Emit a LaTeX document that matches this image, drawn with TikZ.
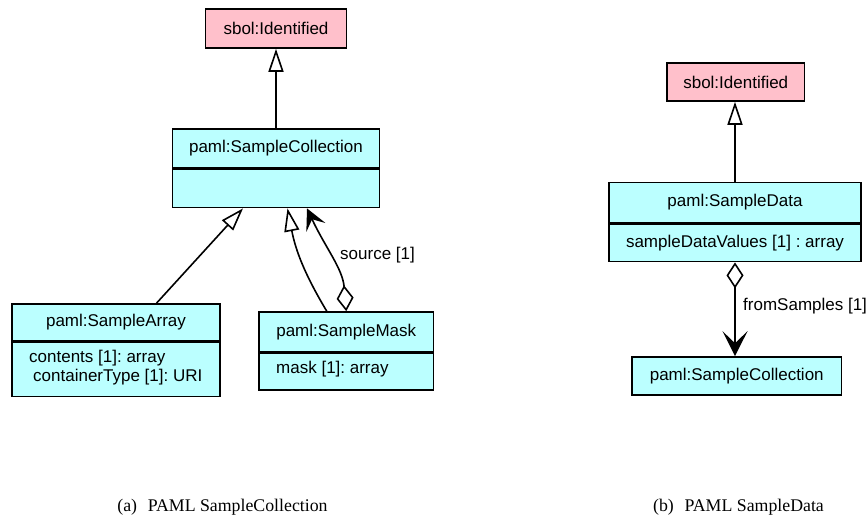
\documentclass[tikz,border=0pt]{standalone}
\usepackage{fontspec}
\setsansfont{Liberation Sans}
\setmainfont{Liberation Serif}
\usetikzlibrary{arrows.meta}
\definecolor{umlpink}{RGB}{255,192,203}
\definecolor{umlcyan}{RGB}{187,255,255}
\begin{document}
\frenchspacing
\begin{tikzpicture}[x=1pt,y=1pt,
  cls/.style={draw=black, line width=1.6pt, fill=umlcyan, inner sep=0pt, font=\sffamily\fontsize{17}{20}\selectfont},
  idcls/.style={cls, fill=umlpink},
  gen/.style={line width=1.6pt, -{Triangle[open,length=23pt,width=15pt]}},
  assoc/.style={line width=1.6pt, {Diamond[open,length=26pt,width=17pt]}-{Stealth[length=21pt,width=21pt,inset=9pt]}},
  assocbig/.style={line width=1.6pt, {Diamond[open,length=26pt,width=17pt]}-{Stealth[length=25pt,width=25pt,inset=12pt]}},
  lbl/.style={font=\sffamily\fontsize{17}{20}\selectfont, inner sep=0pt},
  captext/.style={font=\rmfamily\fontsize{17.8}{20}\selectfont, inner sep=0pt}]
\useasboundingbox (0,0) rectangle (866,-518);
% left diagram
\node[idcls, minimum width=141pt, minimum height=39pt] (idL) at (276,-28.5) {sbol:Identified};
\node[cls, minimum width=207pt, minimum height=39pt] (scT) at (276,-148.5) {paml:SampleCollection};
\node[cls, minimum width=207pt, minimum height=38pt, anchor=north] (scB) at (scT.south) {};
\node[cls, minimum width=208pt, minimum height=37pt] (saT) at (116,-322.5) {paml:SampleArray};
\node[cls, minimum width=208pt, minimum height=54pt, anchor=north] (saB) at (saT.south) {};
\node[lbl, anchor=west] (saA1) at (29,-358) {contents [1]: array};
\node[lbl, anchor=west] (saA2) at (33,-377) {containerType [1]: URI};
\node[cls, minimum width=174.5pt, minimum height=40pt] (smT) at (346.25,-332) {paml:SampleMask};
\node[cls, minimum width=174.5pt, minimum height=36.5pt, anchor=north] (smB) at (smT.south) {};
\node[lbl, anchor=west] (smA1) at (276,-369.5) {mask [1]: array};
\draw[gen] (scT.north) -- (idL.south);
\draw[gen] ([xshift=40.5pt]saT.north) -- ([xshift=-33pt]scB.south);
\draw[gen] ([xshift=-19.5pt]smT.north) to[bend left=10] ([xshift=11.5pt]scB.south);
\draw[assoc] (smT.north) to[out=95,in=-65] ([xshift=31pt]scB.south);
\node[lbl, anchor=west] (srcL) at (340,-255) {source [1]};
% right diagram
\node[idcls, minimum width=137.5pt, minimum height=38pt] (idR) at (735.75,-82) {sbol:Identified};
\node[cls, minimum width=252pt, minimum height=40pt] (sdT) at (735,-202.5) {paml:SampleData};
\node[cls, minimum width=252pt, minimum height=37.5pt, anchor=north] (sdB) at (sdT.south) {sampleDataValues [1] : array};
\node[cls, minimum width=209.5pt, minimum height=38pt] (sc2) at (736.75,-376) {paml:SampleCollection};
\draw[gen] (sdT.north) -- (sdT.north |- idR.south);
\draw[assocbig] (sdB.south) -- (sdB.south |- sc2.north);
\node[lbl, anchor=west] (fsL) at (743,-306.5) {fromSamples [1]};
% captions
\node[captext] (capA) at (222.5,-507) {(a)\hspace{0.6em}PAML SampleCollection};
\node[captext] (capB) at (738.5,-507) {(b)\hspace{0.6em}PAML SampleData};
\end{tikzpicture}
\end{document}
